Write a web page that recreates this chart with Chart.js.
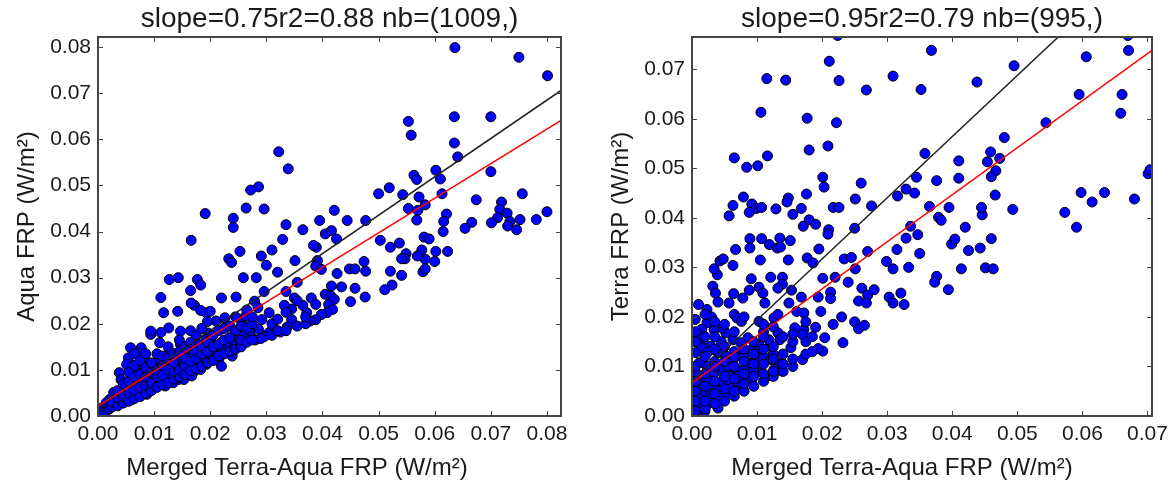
<!DOCTYPE html>
<html>
<head>
<meta charset="utf-8">
<script src="https://cdn.jsdelivr.net/npm/chart.js@4/dist/chart.umd.min.js"></script>
<style>
  body { margin: 0; background: #fff; }
  canvas { position: absolute; top: 0; }
  #aquaChart { left: 0; }
  #terraChart { left: 584px; }
</style>
</head>
<body>
<canvas id="aquaChart" width="584" height="481"></canvas>
<canvas id="terraChart" width="584" height="481"></canvas>
<script>
// values, [merged, single-sensor] FRP in W/m²
const aquaPoints = [
  [0.0636,0.0799],[0.0750,0.0778],[0.0801,0.0738],[0.0742,0.0832],
  [0.0553,0.0639],[0.0558,0.0609],[0.0635,0.0649],[0.0700,0.0649],[0.0635,0.0592],[0.0641,0.0562],
  [0.0322,0.0573],[0.0339,0.0536],[0.0602,0.0533],[0.0700,0.0530],[0.0563,0.0522],[0.0568,0.0513],[0.0610,0.0514],
  [0.0519,0.0495],[0.0500,0.0482],[0.0543,0.0480],[0.0572,0.0475],[0.0613,0.0482],[0.0756,0.0482],[0.0674,0.0469],
  [0.0583,0.0458],[0.0553,0.0450],[0.0570,0.0446],[0.0621,0.0438],[0.0719,0.0464],[0.0716,0.0448],[0.0712,0.0430],
  [0.0729,0.0440],[0.0734,0.0422],[0.0730,0.0412],[0.0746,0.0404],[0.0752,0.0426],[0.0781,0.0426],[0.0800,0.0443],
  [0.0701,0.0419],[0.0666,0.0420],[0.0654,0.0407],[0.0616,0.0422],[0.0615,0.0400],[0.0568,0.0425],[0.0477,0.0424],
  [0.0444,0.0424],[0.0421,0.0446],[0.0395,0.0424],[0.0405,0.0395],[0.0416,0.0402],[0.0425,0.0384],[0.0389,0.0366],
  [0.0384,0.0370],[0.0365,0.0404],[0.0503,0.0381],[0.0521,0.0366],[0.0537,0.0375],[0.0549,0.0352],[0.0547,0.0341],
  [0.0541,0.0341],[0.0581,0.0388],[0.0590,0.0384],[0.0577,0.0360],[0.0583,0.0340],[0.0569,0.0347],[0.0600,0.0335],
  [0.0602,0.0357],[0.0623,0.0357],[0.0579,0.0313],[0.0583,0.0319],[0.0541,0.0305],[0.0521,0.0314],[0.0524,0.0284],
  [0.0511,0.0274],[0.0474,0.0335],[0.0477,0.0314],[0.0448,0.0319],[0.0458,0.0319],[0.0426,0.0309],[0.0434,0.0280],
  [0.0458,0.0277],[0.0416,0.0282],[0.0450,0.0248],[0.0476,0.0258],[0.0391,0.0337],[0.0388,0.0325],[0.0398,0.0318],
  [0.0405,0.0264],[0.0415,0.0260],[0.0421,0.0253],[0.0411,0.0242],[0.0418,0.0231],[0.0408,0.0224],[0.0398,0.0220],
  [0.0388,0.0209],[0.0378,0.0206],[0.0380,0.0256],[0.0388,0.0242],[0.0372,0.0224],[0.0365,0.0240],[0.0351,0.0337],
  [0.0350,0.0256],[0.0345,0.0232],[0.0332,0.0240],[0.0345,0.0209],[0.0337,0.0193],[0.0325,0.0182],[0.0312,0.0191],
  [0.0305,0.0181],[0.0329,0.0383],[0.0310,0.0360],[0.0320,0.0312],[0.0300,0.0327],[0.0335,0.0415],[0.0296,0.0449],
  [0.0286,0.0497],[0.0272,0.0490],[0.0264,0.0451],[0.0253,0.0357],[0.0233,0.0341],[0.0238,0.0333],[0.0259,0.0300],
  [0.0282,0.0300],[0.0291,0.0347],[0.0296,0.0270],[0.0241,0.0429],[0.0241,0.0409],[0.0191,0.0439],[0.0166,0.0381],
  [0.0143,0.0300],[0.0127,0.0296],[0.0177,0.0296],[0.0183,0.0284],[0.0165,0.0272],[0.0112,0.0257],[0.0172,0.0240],
  [0.0220,0.0256],[0.0246,0.0258],[0.0279,0.0249],[0.0183,0.0229],[0.0193,0.0224],[0.0200,0.0227],[0.0166,0.0245],
  [0.0117,0.0224],[0.0142,0.0227],[0.0210,0.0206],[0.0226,0.0213],[0.0256,0.0206],[0.0263,0.0217],[0.0285,0.0235],
  [0.0292,0.0209],[0.0305,0.0224],[0.0286,0.0188],[0.0296,0.0172],[0.0272,0.0172],[0.0253,0.0152],[0.0246,0.0148],
  [0.0239,0.0130],[0.0220,0.0159],[0.0226,0.0141],[0.0216,0.0126],[0.0196,0.0126],[0.0196,0.0180],[0.0193,0.0166],
  [0.0180,0.0144],[0.0163,0.0144],[0.0183,0.0101],[0.0170,0.0095],[0.0147,0.0184],[0.0126,0.0191],[0.0112,0.0181],
  [0.0094,0.0177],[0.0094,0.0184],[0.0110,0.0159],[0.0127,0.0137],[0.0107,0.0123],[0.0147,0.0155],[0.0153,0.0137],
  [0.0140,0.0126],[0.0134,0.0108],[0.0120,0.0097],[0.0153,0.0108],[0.0167,0.0112],[0.0143,0.0079],[0.0058,0.0148],
  [0.0054,0.0126],[0.0051,0.0112],[0.0077,0.0148],[0.0071,0.0137],[0.0084,0.0123],[0.0091,0.0108],[0.0074,0.0108],
  [0.0087,0.0094],[0.0067,0.0094],[0.0038,0.0094],[0.0041,0.0079],[0.0061,0.0076],[0.0081,0.0072],[0.0100,0.0079],
  [0.0114,0.0094],[0.0107,0.0072],[0.0094,0.0058],[0.0074,0.0054],[0.0054,0.0047],[0.0034,0.0043],[0.0021,0.0036],
  [0.0028,0.0051],[0.0015,0.0029],[0.0008,0.0018],[0.0005,0.0009],[0.0048,0.0061],[0.0061,0.0036],[0.0041,0.0029],
  [0.0028,0.0022],[0.0018,0.0014],[0.0087,0.0047],[0.0120,0.0065],[0.0134,0.0072],[0.0153,0.0079],[0.0167,0.0087],
  [0.0193,0.0112],[0.0206,0.0123],[0.0220,0.0108],[0.0180,0.0123],[0.0011,0.0007],[0.0001,0.0004],
  [0.0020,0.0015],[0.0030,0.0025],[0.0030,0.0035],[0.0040,0.0030],[0.0040,0.0050],[0.0050,0.0035],[0.0050,0.0060],
  [0.0060,0.0045],[0.0060,0.0065],[0.0070,0.0045],[0.0070,0.0080],[0.0080,0.0055],[0.0080,0.0070],[0.0080,0.0095],
  [0.0090,0.0060],[0.0090,0.0080],[0.0100,0.0065],[0.0100,0.0090],[0.0110,0.0075],[0.0110,0.0105],[0.0120,0.0080],
  [0.0120,0.0115],[0.0130,0.0090],[0.0130,0.0120],[0.0140,0.0085],[0.0140,0.0105],[0.0150,0.0095],[0.0150,0.0120],
  [0.0160,0.0100],[0.0160,0.0130],[0.0170,0.0105],[0.0170,0.0135],[0.0180,0.0110],[0.0180,0.0155],[0.0190,0.0120],
  [0.0190,0.0150],[0.0200,0.0135],[0.0200,0.0165],[0.0210,0.0140],[0.0220,0.0145],[0.0230,0.0160],[0.0240,0.0165],
  [0.0250,0.0170],[0.0260,0.0175],[0.0270,0.0185],[0.0280,0.0165],[0.0290,0.0168],
  [0.0025,0.0020],[0.0025,0.0030],[0.0035,0.0022],[0.0035,0.0040],[0.0035,0.0055],[0.0045,0.0028],[0.0045,0.0042],
  [0.0045,0.0070],[0.0055,0.0032],[0.0055,0.0050],[0.0055,0.0075],[0.0055,0.0095],[0.0065,0.0038],[0.0065,0.0055],
  [0.0065,0.0085],[0.0065,0.0110],[0.0065,0.0135],[0.0075,0.0042],[0.0075,0.0062],[0.0075,0.0090],[0.0075,0.0120],
  [0.0085,0.0050],[0.0085,0.0065],[0.0085,0.0085],[0.0085,0.0105],[0.0085,0.0135],[0.0095,0.0055],[0.0095,0.0072],
  [0.0095,0.0095],[0.0095,0.0115],[0.0105,0.0062],[0.0105,0.0085],[0.0105,0.0100],[0.0105,0.0135],[0.0115,0.0068],
  [0.0115,0.0088],[0.0115,0.0110],[0.0115,0.0130],[0.0125,0.0072],[0.0125,0.0100],[0.0125,0.0125],[0.0125,0.0150],
  [0.0135,0.0080],[0.0135,0.0095],[0.0135,0.0115],[0.0135,0.0135],[0.0145,0.0085],[0.0145,0.0100],[0.0145,0.0140],
  [0.0145,0.0165],[0.0155,0.0090],[0.0155,0.0110],[0.0155,0.0125],[0.0155,0.0150],[0.0165,0.0098],[0.0165,0.0118],
  [0.0165,0.0160],[0.0165,0.0185],[0.0175,0.0102],[0.0175,0.0125],[0.0175,0.0140],[0.0175,0.0175],[0.0185,0.0108],
  [0.0185,0.0135],[0.0185,0.0150],[0.0185,0.0190],[0.0195,0.0115],[0.0195,0.0140],[0.0195,0.0160],[0.0195,0.0205],
  [0.0205,0.0120],[0.0205,0.0150],[0.0205,0.0175],[0.0215,0.0130],[0.0215,0.0155],[0.0215,0.0185],[0.0225,0.0135],
  [0.0225,0.0165],[0.0225,0.0190],[0.0235,0.0140],[0.0235,0.0170],[0.0235,0.0195],[0.0245,0.0145],[0.0245,0.0185],
  [0.0245,0.0215],[0.0255,0.0150],[0.0255,0.0165],[0.0255,0.0195],[0.0265,0.0160],[0.0265,0.0190],[0.0265,0.0230],
  [0.0275,0.0165],[0.0275,0.0200],[0.0275,0.0215],[0.0310,0.0175],[0.0310,0.0200],[0.0320,0.0185],[0.0320,0.0210],
  [0.0335,0.0185],[0.0335,0.0225],[0.0335,0.0270],[0.0355,0.0195],[0.0355,0.0250],[0.0355,0.0290],[0.0370,0.0200],
  [0.0370,0.0215]
];
const terraPoints = [
  [0.0224,0.0768],[0.0670,0.0768],[0.0368,0.0738],[0.0671,0.0738],[0.0211,0.0716],[0.0495,0.0707],[0.0606,0.0725],
  [0.0115,0.0681],[0.0144,0.0678],[0.0226,0.0677],[0.0309,0.0686],[0.0438,0.0674],[0.0268,0.0658],[0.0352,0.0659],
  [0.0595,0.0649],[0.0661,0.0649],[0.0659,0.0611],[0.0106,0.0613],[0.0177,0.0601],[0.0222,0.0592],[0.0544,0.0592],
  [0.0209,0.0545],[0.0480,0.0562],[0.0180,0.0537],[0.0065,0.0521],[0.0116,0.0525],[0.0358,0.0530],[0.0459,0.0533],
  [0.0473,0.0520],[0.0454,0.0513],[0.0410,0.0515],[0.0084,0.0502],[0.0101,0.0505],[0.0467,0.0495],[0.0460,0.0483],
  [0.0410,0.0480],[0.0201,0.0482],[0.0203,0.0462],[0.0345,0.0482],[0.0376,0.0475],[0.0260,0.0470],[0.0329,0.0458],
  [0.0316,0.0444],[0.0342,0.0450],[0.0466,0.0446],[0.0079,0.0442],[0.0176,0.0448],[0.0148,0.0440],[0.0146,0.0432],
  [0.0251,0.0438],[0.0217,0.0421],[0.0226,0.0421],[0.0276,0.0424],[0.0063,0.0425],[0.0092,0.0428],[0.0099,0.0419],
  [0.0107,0.0421],[0.0088,0.0411],[0.0129,0.0418],[0.0168,0.0419],[0.0057,0.0404],[0.0155,0.0407],[0.0446,0.0406],
  [0.0445,0.0421],[0.0493,0.0417],[0.0573,0.0411],[0.0591,0.0381],[0.0598,0.0451],[0.0634,0.0451],[0.0615,0.0432],
  [0.0680,0.0438],[0.0701,0.0489],[0.0704,0.0497],[0.0365,0.0423],[0.0395,0.0421],[0.0379,0.0401],[0.0383,0.0395],
  [0.0420,0.0381],[0.0336,0.0383],[0.0180,0.0396],[0.0190,0.0387],[0.0171,0.0383],[0.0250,0.0379],[0.0210,0.0376],
  [0.0209,0.0367],[0.0089,0.0358],[0.0089,0.0339],[0.0107,0.0358],[0.0119,0.0346],[0.0135,0.0359],[0.0131,0.0339],
  [0.0136,0.0341],[0.0151,0.0354],[0.0067,0.0336],[0.0195,0.0337],[0.0329,0.0359],[0.0347,0.0366],[0.0315,0.0336],
  [0.0350,0.0328],[0.0270,0.0332],[0.0399,0.0347],[0.0404,0.0357],[0.0460,0.0358],[0.0443,0.0339],[0.0425,0.0334],
  [0.0234,0.0317],[0.0245,0.0320],[0.0177,0.0319],[0.0186,0.0309],[0.0148,0.0315],[0.0105,0.0315],[0.0043,0.0313],
  [0.0048,0.0317],[0.0063,0.0304],[0.0299,0.0312],[0.0333,0.0300],[0.0309,0.0297],[0.0251,0.0297],[0.0414,0.0297],
  [0.0451,0.0299],[0.0463,0.0297],[0.0376,0.0282],[0.0373,0.0270],[0.0394,0.0255],[0.0039,0.0285],[0.0034,0.0297],
  [0.0091,0.0277],[0.0121,0.0280],[0.0139,0.0280],[0.0201,0.0278],[0.0220,0.0280],[0.0240,0.0270],[0.0139,0.0266],
  [0.0032,0.0262],[0.0036,0.0248],[0.0064,0.0247],[0.0088,0.0254],[0.0103,0.0260],[0.0109,0.0248],[0.0132,0.0258],
  [0.0153,0.0254],[0.0213,0.0250],[0.0261,0.0258],[0.0270,0.0244],[0.0280,0.0255],[0.0256,0.0232],[0.0268,0.0228],
  [0.0303,0.0240],[0.0309,0.0228],[0.0321,0.0248],[0.0326,0.0225],[0.0168,0.0240],[0.0194,0.0240],[0.0213,0.0237],
  [0.0023,0.0215],[0.0040,0.0230],[0.0057,0.0228],[0.0078,0.0238],[0.0112,0.0228],[0.0149,0.0228],[0.0065,0.0205],
  [0.0069,0.0198],[0.0076,0.0191],[0.0103,0.0191],[0.0126,0.0198],[0.0132,0.0205],[0.0161,0.0211],[0.0172,0.0208],
  [0.0198,0.0211],[0.0230,0.0200],[0.0217,0.0185],[0.0250,0.0190],[0.0256,0.0176],[0.0265,0.0183],[0.0232,0.0148],
  [0.0204,0.0158],[0.0201,0.0131],[0.0194,0.0136],[0.0190,0.0179],[0.0172,0.0174],[0.0170,0.0164],[0.0170,0.0114],
  [0.0158,0.0178],[0.0152,0.0138],[0.0132,0.0168],[0.0135,0.0154],[0.0121,0.0141],[0.0118,0.0154],[0.0103,0.0144],
  [0.0092,0.0134],[0.0086,0.0158],[0.0075,0.0148],[0.0063,0.0154],[0.0052,0.0168],[0.0046,0.0178],[0.0034,0.0174],
  [0.0023,0.0188],[0.0017,0.0154],[0.0014,0.0138],[0.0029,0.0141],[0.0040,0.0128],[0.0052,0.0121],[0.0063,0.0114],
  [0.0075,0.0121],[0.0086,0.0107],[0.0098,0.0114],[0.0109,0.0121],[0.0121,0.0114],[0.0132,0.0107],[0.0138,0.0091],
  [0.0126,0.0094],[0.0103,0.0097],[0.0092,0.0074],[0.0080,0.0094],[0.0069,0.0094],[0.0057,0.0081],[0.0046,0.0094],
  [0.0034,0.0087],[0.0023,0.0101],[0.0011,0.0107],[0.0006,0.0087],[0.0011,0.0067],[0.0023,0.0074],[0.0034,0.0060],
  [0.0046,0.0054],[0.0057,0.0047],[0.0069,0.0060],[0.0075,0.0067],[0.0063,0.0067],[0.0052,0.0067],[0.0006,0.0054],
  [0.0017,0.0040],[0.0029,0.0034],[0.0040,0.0030],[0.0006,0.0027],[0.0011,0.0013],[0.0003,0.0007],[0.0023,0.0023],
  [0.0009,0.0037],[0.0006,0.0128],[0.0009,0.0161],
  [0.0015,0.0020],[0.0020,0.0050],[0.0030,0.0045],[0.0045,0.0070],[0.0055,0.0100],[0.0065,0.0130],[0.0080,0.0120],
  [0.0085,0.0080],[0.0095,0.0095],[0.0100,0.0130],[0.0110,0.0170],[0.0115,0.0080],[0.0125,0.0125],[0.0035,0.0110],
  [0.0025,0.0130],[0.0045,0.0150],[0.0015,0.0175],[0.0030,0.0200],[0.0005,0.0195],[0.0010,0.0225],[0.0050,0.0040],
  [0.0060,0.0055],[0.0070,0.0080],[0.0040,0.0016],[0.0020,0.0010],
  [0.0005,0.0010],[0.0005,0.0030],[0.0005,0.0050],[0.0005,0.0070],[0.0005,0.0100],[0.0005,0.0150],[0.0005,0.0170],
  [0.0020,0.0015],[0.0020,0.0030],[0.0020,0.0060],[0.0020,0.0085],[0.0020,0.0120],[0.0020,0.0160],[0.0020,0.0205],
  [0.0035,0.0025],[0.0035,0.0045],[0.0035,0.0070],[0.0035,0.0100],[0.0035,0.0135],[0.0035,0.0160],[0.0035,0.0190],
  [0.0050,0.0030],[0.0050,0.0055],[0.0050,0.0080],[0.0050,0.0110],[0.0050,0.0140],[0.0050,0.0185],[0.0065,0.0040],
  [0.0065,0.0050],[0.0065,0.0075],[0.0065,0.0100],[0.0065,0.0120],[0.0065,0.0170],[0.0080,0.0050],[0.0080,0.0065],
  [0.0080,0.0085],[0.0080,0.0110],[0.0080,0.0135],[0.0080,0.0200],[0.0095,0.0060],[0.0095,0.0080],[0.0095,0.0105],
  [0.0095,0.0125],[0.0095,0.0150],[0.0110,0.0070],[0.0110,0.0085],[0.0110,0.0105],[0.0110,0.0135],[0.0110,0.0160],
  [0.0110,0.0185],[0.0125,0.0080],[0.0125,0.0090],[0.0125,0.0115],[0.0125,0.0140],[0.0125,0.0180],[0.0140,0.0090],
  [0.0140,0.0105],[0.0140,0.0125],[0.0140,0.0160],[0.0155,0.0100],[0.0155,0.0115],[0.0155,0.0150],[0.0155,0.0165],
  [0.0175,0.0125],[0.0175,0.0150],[0.0175,0.0190],[0.0185,0.0130],[0.0185,0.0160]
];

// fitted lines, end points
const aquaRedLine = [[0, 0.0022], [0.0825, 0.0641]];
const aquaBlackLine = [[0, 0.0019], [0.0825, 0.0706]];
const terraRedLine = [[0, 0.0067], [0.0707, 0.0738]];
const terraBlackLine = [[0, 0.0070], [0.0707, 0.0943]];

const aquaTicks = [0, 0.01, 0.02, 0.03, 0.04, 0.05, 0.06, 0.07, 0.08];
const terraTicks = [0, 0.01, 0.02, 0.03, 0.04, 0.05, 0.06, 0.07];

const aquaTitle = 'slope=0.75r2=0.88 nb=(1009,)';
const terraTitle = 'slope=0.95r2=0.79 nb=(995,)';
const xLabel = 'Merged Terra-Aqua FRP (W/m²)';

const textColor = '#1a1a1a';
const frameColor = '#444';
const fontFamily = 'Liberation Sans, Arial, sans-serif';

// matplotlib-style frame with inward ticks on all four sides
const frameTicks = {
    id: 'frameTicks',
    afterDraw(chart) {
        const { ctx, chartArea: a, scales: { x, y } } = chart;
        ctx.save();
        ctx.strokeStyle = frameColor;
        ctx.lineWidth = 1;
        ctx.beginPath();
        x.ticks.forEach(t => {
            const px = Math.round(x.getPixelForValue(t.value)) + 0.5;
            ctx.moveTo(px, a.bottom); ctx.lineTo(px, a.bottom - 5);
            ctx.moveTo(px, a.top); ctx.lineTo(px, a.top + 5);
        });
        y.ticks.forEach(t => {
            const py = Math.round(y.getPixelForValue(t.value)) + 0.5;
            ctx.moveTo(a.left, py); ctx.lineTo(a.left + 5, py);
            ctx.moveTo(a.right, py); ctx.lineTo(a.right - 5, py);
        });
        ctx.stroke();
        ctx.lineWidth = 2;
        ctx.strokeRect(a.left, a.top, a.right - a.left, a.bottom - a.top);
        ctx.restore();
    }
};

// x axis label, placed where the reference has it (a little left of the axes centre)
const xAxisLabel = {
    id: 'xAxisLabel',
    afterDraw(chart, args, opts) {
        const { ctx } = chart;
        ctx.save();
        ctx.font = '24px ' + fontFamily;
        ctx.fillStyle = textColor;
        ctx.textAlign = 'center';
        ctx.textBaseline = 'alphabetic';
        ctx.fillText(opts.text, opts.x, opts.y);
        ctx.restore();
    }
};

function toXY(pairs) {
    return pairs.map(p => ({ x: p[0], y: p[1] }));
}

function makePlot(id, opts) {
    const tickFont = { family: fontFamily, size: 21 };
    const labelFont = { family: fontFamily, size: 24 };
    return new Chart(document.getElementById(id), {
        type: 'scatter',
        data: {
            datasets: [
                {
                    type: 'line', data: toXY(opts.red), borderColor: '#ff0000', borderWidth: 1.5,
                    pointRadius: 0, fill: false, order: 0, clip: 0
                },
                {
                    type: 'line', data: toXY(opts.black), borderColor: '#222', borderWidth: 1.5,
                    pointRadius: 0, fill: false, order: 1, clip: 0
                },
                {
                    data: toXY(opts.points), backgroundColor: '#0000ff', borderColor: '#000',
                    borderWidth: 1, pointRadius: 5, order: 2, clip: 0
                }
            ]
        },
        options: {
            responsive: false,
            animation: false,
            events: [],
            layout: { padding: { left: 0, right: opts.padRight, top: 0, bottom: 0 } },
            plugins: {
                legend: { display: false },
                tooltip: { enabled: false },
                title: {
                    display: true, text: opts.title, fullSize: false, color: textColor,
                    font: { family: fontFamily, size: 28, weight: 'normal', lineHeight: 1.2 },
                    padding: { top: 2, bottom: 1.4 }
                },
                xAxisLabel: { text: xLabel, x: opts.xLabelX, y: 475 }
            },
            scales: {
                x: {
                    type: 'linear', min: 0, max: opts.xMax,
                    afterBuildTicks: s => { s.ticks = opts.xTicks.map(v => ({ value: v })); },
                    afterFit: s => { s.height = 65; s.paddingLeft = 0; s.paddingRight = 0; },
                    grid: { display: false, drawTicks: false }, border: { display: false },
                    ticks: { callback: v => v.toFixed(2), font: tickFont, color: textColor, padding: 6, maxRotation: 0, autoSkip: false }
                },
                y: {
                    type: 'linear', min: 0, max: opts.yMax,
                    afterBuildTicks: s => { s.ticks = opts.yTicks.map(v => ({ value: v })); },
                    afterFit: s => { s.width = opts.axisLeft; s.paddingTop = 0; s.paddingBottom = 0; },
                    grid: { display: false, drawTicks: false }, border: { display: false },
                    ticks: { callback: v => v.toFixed(2), font: tickFont, color: textColor, padding: 7, autoSkip: false },
                    title: { display: true, text: opts.yLabel, font: labelFont, color: textColor, padding: { top: opts.yTitlePad, bottom: 0 } }
                }
            }
        },
        plugins: [frameTicks, xAxisLabel]
    });
}

makePlot('aquaChart', {
    points: aquaPoints, red: aquaRedLine, black: aquaBlackLine,
    xMax: 0.0825, yMax: 0.0822, xTicks: aquaTicks, yTicks: aquaTicks,
    title: aquaTitle, yLabel: 'Aqua FRP (W/m²)',
    axisLeft: 98, padRight: 23, yTitlePad: 13, xLabelX: 297
});

makePlot('terraChart', {
    points: terraPoints, red: terraRedLine, black: terraBlackLine,
    xMax: 0.0707, yMax: 0.0765, xTicks: terraTicks, yTicks: terraTicks,
    title: terraTitle, yLabel: 'Terra FRP (W/m²)',
    axisLeft: 108, padRight: 16, yTitlePad: 23, xLabelX: 318
});
</script>
</body>
</html>
